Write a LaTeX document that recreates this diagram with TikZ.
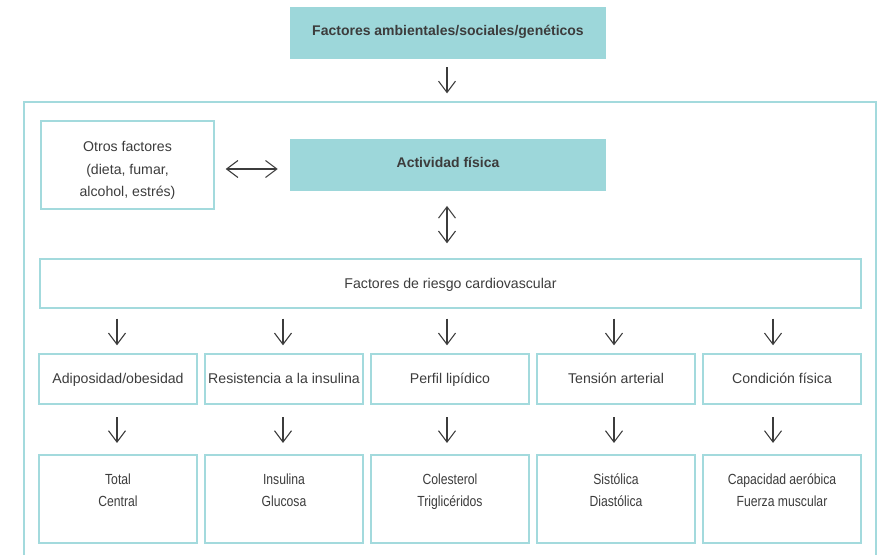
\documentclass[tikz,border=0pt]{standalone}
\usepackage{fontspec}
\setmainfont{Liberation Sans}
\newfontfamily\condfont[FakeStretch=0.83]{Liberation Sans}
\usetikzlibrary{arrows.meta,calc}
\definecolor{boxteal}{HTML}{9DD7DA}
\definecolor{edge}{HTML}{A3DADD}
\definecolor{ink}{HTML}{3C3C3C}

\tikzset{
  frame/.style={draw=edge, line width=1.1pt},
  plainbox/.style={frame, inner sep=0pt, align=center, text=ink,
    font=\fontsize{10.6}{16.9}\selectfont},
  oneline/.style={text height=8pt, text depth=0.8pt},
  tealbox/.style={fill=boxteal, inner sep=0pt, align=center, text=ink,
    font=\bfseries\fontsize{10.5}{14}\selectfont, minimum width=237pt, minimum height=39pt,
    text height=8pt, text depth=4.2pt},
  factorbox/.style={plainbox, oneline, minimum width=118.5pt, minimum height=37.5pt},
  databox/.style={frame, inner sep=0pt, align=center, text=ink,
    font=\condfont\fontsize{11}{16.5}\selectfont, minimum width=118.5pt, minimum height=66pt,
    text height=12.8pt, text depth=2pt},
  arr/.style={draw=ink, line width=0.8pt, -{Straight Barb[length=8.5pt,width=12.75pt]}},
  dbl/.style={draw=ink, line width=0.8pt,
    {Straight Barb[length=8.5pt,width=12.75pt]}-{Straight Barb[length=8.5pt,width=12.75pt]}},
}

\begin{document}
\begin{tikzpicture}[x=0.75pt, y=-0.75pt]
\useasboundingbox (0,0) rectangle (880,555);

% external factors, outside the frame
\node[tealbox] (env) at (448,33) {Factores ambientales/sociales/genéticos};

% open frame enclosing the rest
\draw[draw=edge, line width=1.3pt] (24,555) -- (24,102) -- (876,102) -- (876,555);
\coordinate (cont) at (447,102);

\node[plainbox, minimum width=129.75pt, minimum height=66pt,
      text height=49.8pt, text depth=2pt] (otros) at (127.5,165)
  {Otros factores\\(dieta, fumar,\\alcohol, estrés)};
\node[tealbox] (act) at (448,165) {Actividad física};
\node[plainbox, oneline, minimum width=615.75pt, minimum height=36.75pt] (risk) at (450.5,283.5)
  {Factores de riesgo cardiovascular};

% risk factors
\node[factorbox] (a1) at (118,379) {Adiposidad/obesidad};
\node[factorbox] (a2) at (284,379) {Resistencia a la insulina};
\node[factorbox] (a3) at (450,379) {Perfil lipídico};
\node[factorbox] (a4) at (616,379) {Tensión arterial};
\node[factorbox] (a5) at (782,379) {Condición física};

% measures
\node[databox] (b1) at (118,499) {Total\\Central};
\node[databox] (b2) at (284,499) {Insulina\\Glucosa};
\node[databox] (b3) at (450,499) {Colesterol\\Triglicéridos};
\node[databox] (b4) at (616,499) {Sistólica\\Diastólica};
\node[databox] (b5) at (782,499) {Capacidad aeróbica\\Fuerza muscular};

% connectors
\draw[arr, shorten <=6pt, shorten >=6.5pt] ($(env.south)+(-1,0)$) -- (cont);
\draw[dbl, shorten <=8.25pt, shorten >=9pt] ($(otros.east)+(0,4)$) -- ($(act.west |- otros.east)+(0,4)$);
\draw[dbl, shorten <=11pt, shorten >=11.25pt] ($(act.south)+(-1,0)$) -- ($(act.south |- risk.north)+(-1,0)$);

\foreach \i/\d in {1/-1,2/-1,3/-3,4/-2,5/-9} {
  \draw[arr, shorten <=7.5pt, shorten >=6pt]
    ($(risk.south -| a\i.north)+(\d,0)$) -- ($(a\i.north)+(\d,0)$);
  \draw[arr, shorten <=9.5pt, shorten >=8.5pt]
    ($(a\i.south)+(\d,0)$) -- ($(b\i.north)+(\d,0)$);
}
\end{tikzpicture}
\end{document}
